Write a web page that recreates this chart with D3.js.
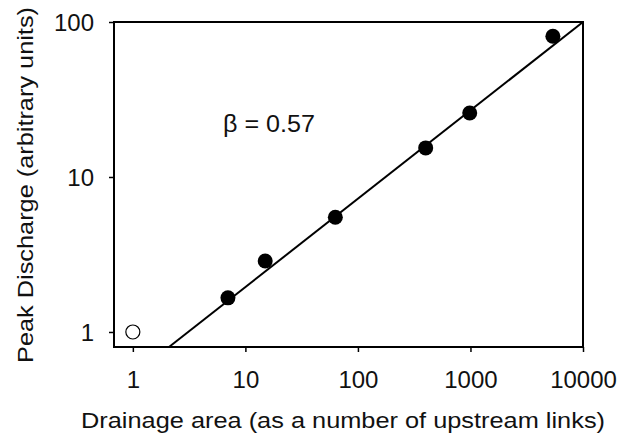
<!DOCTYPE html>
<html>
<head>
<meta charset="utf-8">
<script src="https://cdn.jsdelivr.net/npm/d3@7"></script>
<style>
  body { margin: 0; background: #fff; }
  text { font-family: "Liberation Sans", Arial, sans-serif; fill: #111; }
</style>
</head>
<body>
<svg id="chart" width="631" height="438"></svg>
<script>
// Data
// ----
var areas     = [7, 15, 63, 400, 985, 5400];
var discharge = [1.66, 2.87, 5.5, 15.4, 25.9, 81];
var openPoint = {x: 1, y: 1};
var xTicks = [1, 10, 100, 1000, 10000];
var yTicks = [1, 10, 100];
var beta = 0.57;
var fitAnchor = {x: 10000, y: 100};  // fitted line passes through here

// Layout
// ------
var svg = d3.select("#chart");
var box = {left: 114, top: 22, right: 583, bottom: 347};

var xScale = d3.scaleLog().domain([0.68, 10000]).range([box.left, box.right]);
var yScale = d3.scaleLog().domain([0.8, 100]).range([box.bottom, box.top]);

// Fitted line
// -----------
function fit(x) { return fitAnchor.y * Math.pow(x / fitAnchor.x, beta); }
var xStart = fitAnchor.x * Math.pow(0.8 / fitAnchor.y, 1 / beta);
var fitLine = d3.line()
  .x(function(d) { return xScale(d) })
  .y(function(d) { return yScale(fit(d)) });

svg.append("path")
  .datum([xStart, fitAnchor.x])
  .attr("d", fitLine)
  .attr("fill", "none")
  .attr("stroke", "#000")
  .attr("stroke-width", 2);

// Axes
// ----
var xAxis = d3.axisBottom(xScale).tickValues(xTicks).tickSize(5).tickFormat(d3.format("d"));
var yAxis = d3.axisLeft(yScale).tickValues(yTicks).tickSize(5).tickFormat(d3.format("d"));

var gx = svg.append("g").attr("transform", "translate(0," + box.bottom + ")").call(xAxis);
var gy = svg.append("g").attr("transform", "translate(" + box.left + ",0)").call(yAxis);

[gx, gy].forEach(function(g) {
  g.select(".domain").remove();
  g.selectAll("line").attr("stroke", "#000").attr("stroke-width", 1.5);
  g.selectAll("text").attr("font-size", 24).attr("fill", "#111")
    .style("font-family", "Liberation Sans, Arial, sans-serif");
});
gx.selectAll("text").attr("y", 41).attr("dy", 0);
gy.selectAll("text").attr("x", -20).attr("dy", "0.35em");

// Frame
// -----
svg.append("rect")
  .attr("x", box.left).attr("y", box.top)
  .attr("width", box.right - box.left).attr("height", box.bottom - box.top)
  .attr("fill", "none").attr("stroke", "#000").attr("stroke-width", 2);

// Points
// ------
svg.selectAll(".pt")
  .data(areas.map(function(a, i) { return {x: a, y: discharge[i]}; }))
  .enter()
  .append("circle")
  .attr("class", "pt")
  .attr("cx", function(d) { return xScale(d.x) })
  .attr("cy", function(d) { return yScale(d.y) })
  .attr("r", 7.5)
  .attr("fill", "#000");

svg.append("circle")
  .attr("cx", xScale(openPoint.x))
  .attr("cy", yScale(openPoint.y))
  .attr("r", 7)
  .attr("fill", "#fff")
  .attr("stroke", "#000")
  .attr("stroke-width", 1.2);

// Labels
// ------
svg.append("text")
  .attr("x", 223).attr("y", 132)
  .attr("font-size", 24)
  .attr("textLength", 92)
  .attr("lengthAdjust", "spacingAndGlyphs")
  .text("\u03b2 = " + beta.toFixed(2));

svg.append("text")
  .attr("x", 81).attr("y", 428)
  .attr("font-size", 22.5)
  .attr("textLength", 524)
  .attr("lengthAdjust", "spacingAndGlyphs")
  .text("Drainage area (as a number of upstream links)");

svg.append("text")
  .attr("transform", "translate(33,363) rotate(-90)")
  .attr("font-size", 22.5)
  .attr("textLength", 356)
  .attr("lengthAdjust", "spacingAndGlyphs")
  .text("Peak Discharge (arbitrary units)");
</script>
</body>
</html>
